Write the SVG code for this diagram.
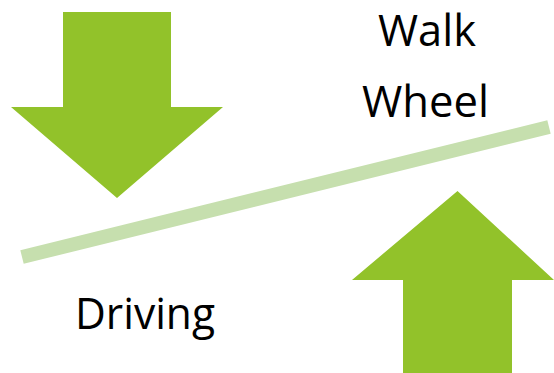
<svg xmlns="http://www.w3.org/2000/svg" width="554" height="373" viewBox="0 0 554 373">
<style>
.arrow{fill:#92C22A}
.lbl{font-family:"Open Sans","Liberation Sans",sans-serif;font-size:44px;fill:#000}
</style>
<rect width="554" height="373" fill="#fff"/>
<g id="connectors">
<line x1="22" y1="257" x2="549" y2="127" stroke="#C6DFAE" stroke-width="14"/>
</g>
<g id="arrow-down"><polygon class="arrow" points="63,12 171,12 171,107 223,107 117,198 11,107 63,107"/></g>
<g id="arrow-up"><polygon class="arrow" points="457.5,191 554,280 512,280 512,373 403,373 403,280 352,280"/></g>
<g id="walk"><text class="lbl" x="378" y="46" textLength="98" lengthAdjust="spacingAndGlyphs">Walk</text></g>
<g id="wheel"><text class="lbl" x="362" y="117" textLength="127" lengthAdjust="spacingAndGlyphs">Wheel</text></g>
<g id="driving"><text class="lbl" x="75" y="329" textLength="140" lengthAdjust="spacingAndGlyphs">Driving</text></g>
</svg>
